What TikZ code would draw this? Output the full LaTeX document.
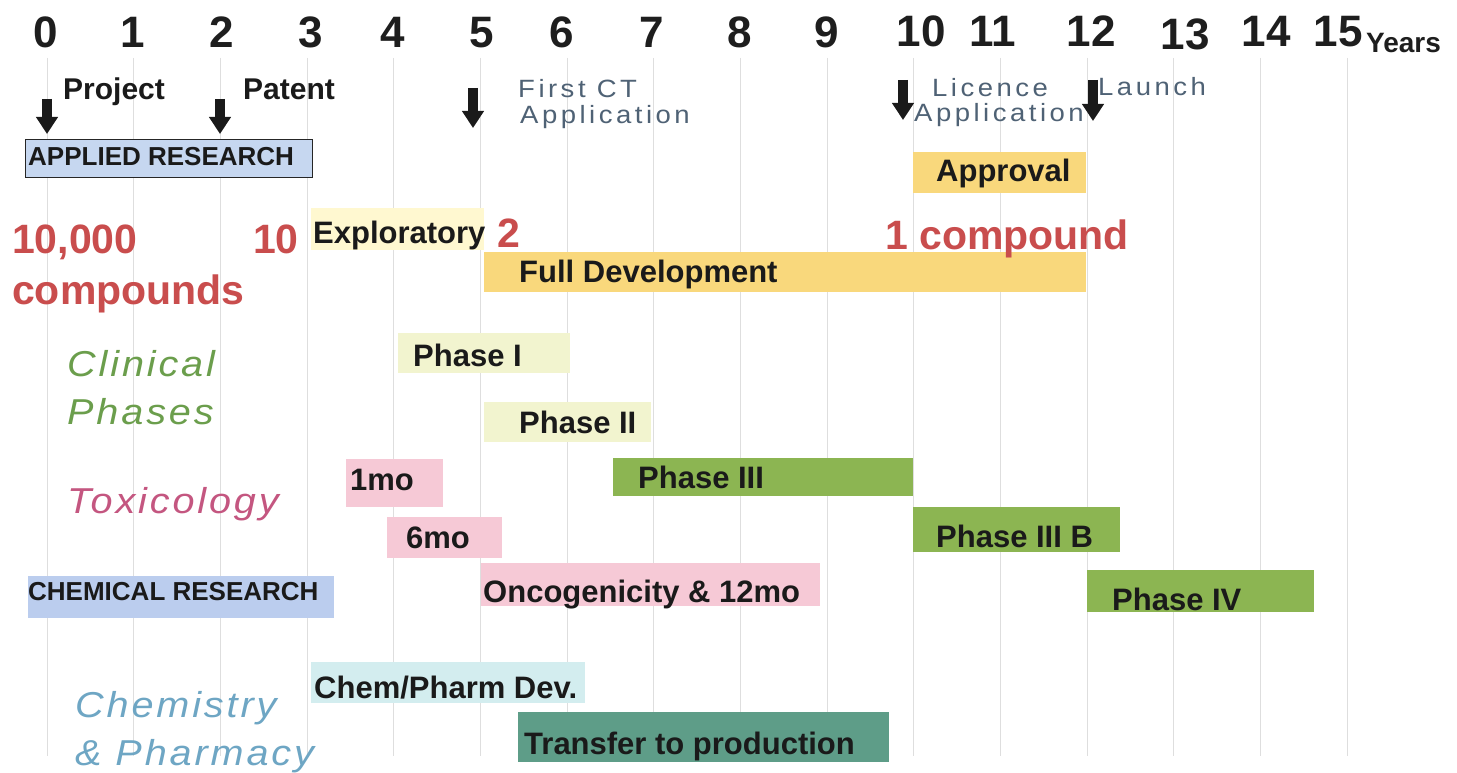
\documentclass[tikz,border=0pt]{standalone}
\usepackage{fontspec}
\setmainfont{Liberation Sans}
\newfontfamily\eventfont[FakeStretch=1.1,LetterSpace=14]{Liberation Sans}
\newfontfamily\trackfont[FakeStretch=1.1,LetterSpace=8]{Liberation Sans}
\usetikzlibrary{arrows.meta,positioning}
\definecolor{yearInk}{HTML}{1E1E1E}
\definecolor{barInk}{HTML}{1A1A1A}
\definecolor{eventInk}{HTML}{4F6275}
\definecolor{countRed}{HTML}{C94D4D}
\definecolor{gridGray}{HTML}{DEDEDE}
\definecolor{arrowInk}{HTML}{1A1A1A}
\definecolor{resBlue}{HTML}{C6D7F0}
\definecolor{chemBlue}{HTML}{BBCDEE}
\definecolor{explYellow}{HTML}{FFF8D0}
\definecolor{devGold}{HTML}{F9D87C}
\definecolor{earlyPale}{HTML}{F2F4CF}
\definecolor{lateGreen}{HTML}{8CB552}
\definecolor{toxPink}{HTML}{F6C9D6}
\definecolor{pharmPale}{HTML}{D3EDEF}
\definecolor{prodTeal}{HTML}{5E9D88}
\definecolor{clinGreen}{HTML}{6B9E4C}
\definecolor{toxRose}{HTML}{C45680}
\definecolor{pharmBlue}{HTML}{6EA6C4}
\tikzset{
  yearlbl/.style={font=\bfseries\fontsize{44}{44}\selectfont, text=yearInk},
  milelbl/.style={font=\bfseries\fontsize{30}{30}\selectfont, text=barInk, anchor=base west},
  eventlbl/.style={font=\eventfont\fontsize{25}{25}\selectfont, text=eventInk, anchor=base west},
  countlbl/.style={font=\bfseries\fontsize{41}{51}\selectfont, text=countRed},
  tracklbl/.style={font=\trackfont\itshape\fontsize{36}{48}\selectfont, align=left},
  barbox/.style={anchor=north west},
  barlbl/.style={font=\bfseries\fontsize{31}{31}\selectfont, text=barInk, anchor=base west},
  reslbl/.style={font=\bfseries\fontsize{26}{26}\selectfont, text=barInk, anchor=base west},
  milestone/.style={line width=10pt, draw=arrowInk, -{Triangle[length=17pt,width=21pt]}},
  gridrule/.style={draw=gridGray, line width=0.9pt}
}
\begin{document}
\begin{tikzpicture}[x=1pt, y=-1pt, every node/.style={inner sep=0pt}]

\fill[white] (0,0) rectangle (1457,773);
\useasboundingbox (0,0) rectangle (1457,773);

% one rule per year
\foreach \yr in {0,...,15}
  \draw[gridrule] ({47+86.67*\yr},58) -- ({47+86.67*\yr},756);

% time axis
\foreach \yr/\xc/\yb in {0/46/48, 1/133/48, 2/222/48, 3/311/48, 4/393/48, 5/482/48,
                         6/562/48, 7/652/48, 8/740/48, 9/827/48, 10/921/47, 11/993/47,
                         12/1091/47, 13/1185/50, 14/1266/47, 15/1338/47}
  \node[yearlbl, anchor=base] (yr\yr) at (\xc,\yb) {\yr};
\node[yearlbl, font=\bfseries\fontsize{28}{28}\selectfont, anchor=base west] (yrunit) at (1366,53) {Years};

% milestones
\coordinate (projTop) at (47,99);    \coordinate (projTip) at (47,134);
\coordinate (patTop) at (220,99);    \coordinate (patTip) at (220,134);
\coordinate (ctTop) at (473,88);     \coordinate (ctTip) at (473,128);
\coordinate (licTop) at (903,80);    \coordinate (licTip) at (903,120);
\coordinate (lnchTop) at (1093,80);  \coordinate (lnchTip) at (1093,121);
\draw[milestone] (projTop) -- (projTip);
\draw[milestone] (patTop) -- (patTip);
\draw[milestone] (ctTop) -- (ctTip);
\draw[milestone] (licTop) -- (licTip);
\draw[milestone] (lnchTop) -- (lnchTip);

\node[milelbl] (project) at (63,100) {Project};
\node[milelbl] (patent) at (243,100) {Patent};
\node[eventlbl] (firstct) at (518,98) {First CT};
\node[eventlbl] (ctappl) at (520,124) {Application};
\node[eventlbl] (licence) at (932,97) {Licence};
\node[eventlbl] (licappl) at (914,122) {Application};
\node[eventlbl] (launch) at (1098,96) {Launch};

% research blocks
\node[barbox, fill=resBlue, draw=black!85, line width=1.2pt, minimum width=287pt, minimum height=38pt] (applied) at (25,139) {};
\node[reslbl, below right=27pt and 3pt of applied.north west, anchor=base west] {APPLIED RESEARCH};
\node[barbox, fill=chemBlue, minimum width=306pt, minimum height=42pt] (chemres) at (28,576) {};
\node[reslbl, below right=24pt and 0pt of chemres.north west, anchor=base west] {CHEMICAL RESEARCH};

% development
\node[barbox, fill=devGold, minimum width=173pt, minimum height=41pt] (approval) at (913,152) {};
\node[barlbl, below right=30pt and 23pt of approval.north west, anchor=base west] {Approval};
\node[barbox, fill=explYellow, minimum width=173pt, minimum height=42pt] (explor) at (311,208) {};
\node[barlbl, below right=35pt and 2pt of explor.north west, anchor=base west] {Exploratory};
\node[barbox, fill=devGold, minimum width=602pt, minimum height=40pt] (fulldev) at (484,252) {};
\node[barlbl, below right=30pt and 35pt of fulldev.north west, anchor=base west] {Full Development};

% compound counts
\node[countlbl, anchor=north west, align=left] (cnt10k) at (12,225) {10,000\\compounds};
\node[countlbl, anchor=base west] (cnt10) at (253,253) {10};
\node[countlbl, anchor=base west] (cnt2) at (497,247) {2};
\node[countlbl, anchor=base west] (cnt1) at (885,249) {1 compound};

% clinical phases
\node[tracklbl, text=clinGreen, anchor=north west] (clintrack) at (67,350) {Clinical\\Phases};
\node[barbox, fill=earlyPale, minimum width=172pt, minimum height=40pt] (ph1) at (398,333) {};
\node[barlbl, below right=33pt and 15pt of ph1.north west, anchor=base west] {Phase I};
\node[barbox, fill=earlyPale, minimum width=167pt, minimum height=40pt] (ph2) at (484,402) {};
\node[barlbl, below right=31pt and 35pt of ph2.north west, anchor=base west] {Phase II};
\node[barbox, fill=lateGreen, minimum width=300pt, minimum height=38pt] (ph3) at (613,458) {};
\node[barlbl, below right=30pt and 25pt of ph3.north west, anchor=base west] {Phase III};
\node[barbox, fill=lateGreen, minimum width=207pt, minimum height=45pt] (ph3b) at (913,507) {};
\node[barlbl, below right=40pt and 23pt of ph3b.north west, anchor=base west] {Phase III B};
\node[barbox, fill=lateGreen, minimum width=227pt, minimum height=42pt] (ph4) at (1087,570) {};
\node[barlbl, below right=40pt and 25pt of ph4.north west, anchor=base west] {Phase IV};

% toxicology
\node[tracklbl, text=toxRose, anchor=base west] (toxtrack) at (67,513) {Toxicology};
\node[barbox, fill=toxPink, minimum width=97pt, minimum height=48pt] (tox1) at (346,459) {};
\node[barlbl, below right=31pt and 4pt of tox1.north west, anchor=base west] {1mo};
\node[barbox, fill=toxPink, minimum width=115pt, minimum height=41pt] (tox6) at (387,517) {};
\node[barlbl, below right=31pt and 19pt of tox6.north west, anchor=base west] {6mo};
\node[barbox, fill=toxPink, minimum width=339pt, minimum height=43pt] (toxonc) at (481,563) {};
\node[barlbl, below right=39pt and 2pt of toxonc.north west, anchor=base west] {Oncogenicity \& 12mo};

% chemistry and pharmacy
\node[tracklbl, text=pharmBlue, anchor=north west] (pharmtrack) at (75,691) {Chemistry\\\& Pharmacy};
\node[barbox, fill=pharmPale, minimum width=274pt, minimum height=41pt] (chemdev) at (311,662) {};
\node[barlbl, below right=36pt and 3pt of chemdev.north west, anchor=base west] {Chem/Pharm Dev.};
\node[barbox, fill=prodTeal, minimum width=371pt, minimum height=50pt] (transfer) at (518,712) {};
\node[barlbl, below right=42pt and 6pt of transfer.north west, anchor=base west] {Transfer to production};

\end{tikzpicture}
\end{document}
